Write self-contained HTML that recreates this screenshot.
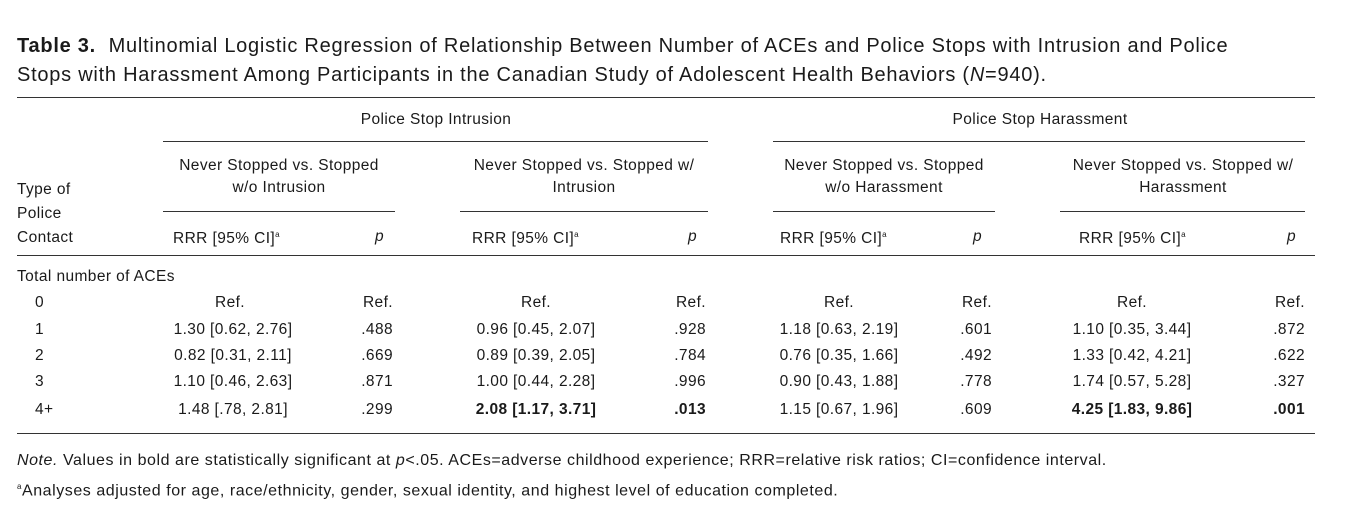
<!DOCTYPE html>
<html><head><meta charset="utf-8"><style>
body{margin:0;width:1352px;height:510px;background:#fff;position:relative;font-family:"Liberation Sans",sans-serif;color:#1a1a1a;overflow:hidden}
.t{position:absolute;white-space:nowrap;font-size:15.5px;line-height:18px;letter-spacing:0.4px}
.c{transform:translateX(-50%)}
.r{transform:translateX(-100%)}
.h{position:absolute;height:1px;background:#333}
b{font-weight:bold}
</style></head><body>
<div class="t" style="left:17px;top:32px;font-size:20px;line-height:29px;letter-spacing:0.75px"><b>Table 3.</b>&nbsp; Multinomial Logistic Regression of Relationship Between Number of ACEs and Police Stops with Intrusion and Police<br>Stops with Harassment Among Participants in the Canadian Study of Adolescent Health Behaviors (<i>N</i>=940).</div>
<div class="h" style="left:17px;width:1298px;top:97px"></div>
<div class="t c" style="left:436px;top:111px">Police Stop Intrusion</div>
<div class="t c" style="left:1040px;top:111px">Police Stop Harassment</div>
<div class="h" style="left:163px;width:545px;top:141px"></div>
<div class="h" style="left:773px;width:532px;top:141px"></div>
<div class="t c" style="left:279px;top:157px;text-align:center">Never Stopped vs. Stopped<br><span style="line-height:26px">w/o Intrusion</span></div>
<div class="t c" style="left:584px;top:157px;text-align:center">Never Stopped vs. Stopped w/<br><span style="line-height:26px">Intrusion</span></div>
<div class="t c" style="left:884px;top:157px;text-align:center">Never Stopped vs. Stopped<br><span style="line-height:26px">w/o Harassment</span></div>
<div class="t c" style="left:1183px;top:157px;text-align:center">Never Stopped vs. Stopped w/<br><span style="line-height:26px">Harassment</span></div>
<div class="h" style="left:163px;width:232px;top:211px"></div>
<div class="h" style="left:460px;width:248px;top:211px"></div>
<div class="h" style="left:773px;width:222px;top:211px"></div>
<div class="h" style="left:1060px;width:245px;top:211px"></div>
<div class="t" style="left:17px;top:178px;line-height:24px">Type of<br>Police<br>Contact</div>
<div class="t" style="left:173px;top:226px">RRR [95% CI]<sup style="font-size:8px">a</sup></div>
<div class="t" style="left:472px;top:226px">RRR [95% CI]<sup style="font-size:8px">a</sup></div>
<div class="t" style="left:780px;top:226px">RRR [95% CI]<sup style="font-size:8px">a</sup></div>
<div class="t" style="left:1079px;top:226px">RRR [95% CI]<sup style="font-size:8px">a</sup></div>
<div class="t" style="left:375px;top:228px"><i>p</i></div>
<div class="t" style="left:688px;top:228px"><i>p</i></div>
<div class="t" style="left:973px;top:228px"><i>p</i></div>
<div class="t" style="left:1287px;top:228px"><i>p</i></div>
<div class="h" style="left:17px;width:1298px;top:255px"></div>
<div class="t" style="left:17px;top:268px">Total number of ACEs</div>

<div class="t" style="left:35px;top:294px">0</div>
<div class="t c" style="left:230px;top:294px">Ref.</div><div class="t r" style="left:393px;top:294px">Ref.</div>
<div class="t c" style="left:536px;top:294px">Ref.</div><div class="t r" style="left:706px;top:294px">Ref.</div>
<div class="t c" style="left:839px;top:294px">Ref.</div><div class="t r" style="left:992px;top:294px">Ref.</div>
<div class="t c" style="left:1132px;top:294px">Ref.</div><div class="t r" style="left:1305px;top:294px">Ref.</div>

<div class="t" style="left:35px;top:321px">1</div>
<div class="t c" style="left:233px;top:321px">1.30 [0.62, 2.76]</div><div class="t r" style="left:393px;top:321px">.488</div>
<div class="t c" style="left:536px;top:321px">0.96 [0.45, 2.07]</div><div class="t r" style="left:706px;top:321px">.928</div>
<div class="t c" style="left:839px;top:321px">1.18 [0.63, 2.19]</div><div class="t r" style="left:992px;top:321px">.601</div>
<div class="t c" style="left:1132px;top:321px">1.10 [0.35, 3.44]</div><div class="t r" style="left:1305px;top:321px">.872</div>

<div class="t" style="left:35px;top:347px">2</div>
<div class="t c" style="left:233px;top:347px">0.82 [0.31, 2.11]</div><div class="t r" style="left:393px;top:347px">.669</div>
<div class="t c" style="left:536px;top:347px">0.89 [0.39, 2.05]</div><div class="t r" style="left:706px;top:347px">.784</div>
<div class="t c" style="left:839px;top:347px">0.76 [0.35, 1.66]</div><div class="t r" style="left:992px;top:347px">.492</div>
<div class="t c" style="left:1132px;top:347px">1.33 [0.42, 4.21]</div><div class="t r" style="left:1305px;top:347px">.622</div>

<div class="t" style="left:35px;top:373px">3</div>
<div class="t c" style="left:233px;top:373px">1.10 [0.46, 2.63]</div><div class="t r" style="left:393px;top:373px">.871</div>
<div class="t c" style="left:536px;top:373px">1.00 [0.44, 2.28]</div><div class="t r" style="left:706px;top:373px">.996</div>
<div class="t c" style="left:839px;top:373px">0.90 [0.43, 1.88]</div><div class="t r" style="left:992px;top:373px">.778</div>
<div class="t c" style="left:1132px;top:373px">1.74 [0.57, 5.28]</div><div class="t r" style="left:1305px;top:373px">.327</div>

<div class="t" style="left:35px;top:401px">4+</div>
<div class="t c" style="left:233px;top:401px">1.48 [.78, 2.81]</div><div class="t r" style="left:393px;top:401px">.299</div>
<div class="t c" style="left:536px;top:401px"><b>2.08 [1.17, 3.71]</b></div><div class="t r" style="left:706px;top:401px"><b>.013</b></div>
<div class="t c" style="left:839px;top:401px">1.15 [0.67, 1.96]</div><div class="t r" style="left:992px;top:401px">.609</div>
<div class="t c" style="left:1132px;top:401px"><b>4.25 [1.83, 9.86]</b></div><div class="t r" style="left:1305px;top:401px"><b>.001</b></div>

<div class="h" style="left:17px;width:1298px;top:433px"></div>
<div class="t" style="left:17px;top:452px;font-size:16px;letter-spacing:0.55px"><i>Note.</i> Values in bold are statistically significant at <i>p</i>&lt;.05. ACEs=adverse childhood experience; RRR=relative risk ratios; CI=confidence interval.</div>
<div class="t" style="left:17px;top:478px;font-size:16px;letter-spacing:0.55px"><sup style="font-size:8px">a</sup>Analyses adjusted for age, race/ethnicity, gender, sexual identity, and highest level of education completed.</div>
</body></html>
